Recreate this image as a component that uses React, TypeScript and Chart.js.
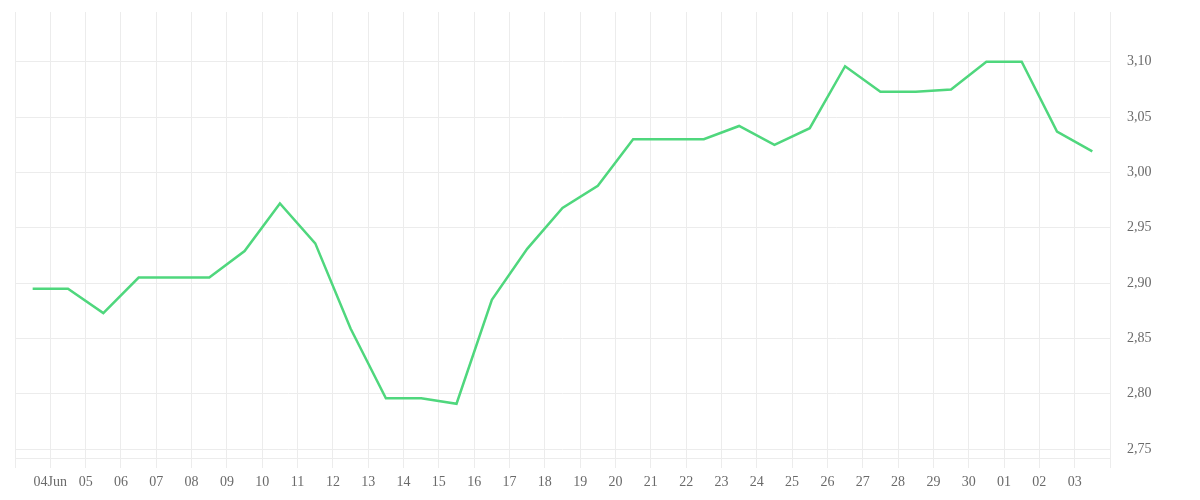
import React, { useEffect, useRef } from 'react';
import Chart from 'chart.js/auto';

// === Data ===
// daily values, 03 Jun .. 03 Jul
const values: number[] = [
  2.895, 2.895, 2.873, 2.905, 2.905, 2.905, 2.929, 2.972, 2.936, 2.859,
  2.796, 2.796, 2.791, 2.885, 2.931, 2.968, 2.988, 3.03, 3.03, 3.03,
  3.042, 3.025, 3.04, 3.096, 3.073, 3.073, 3.075, 3.1, 3.1, 3.037, 3.019,
];

// labels sit on the day boundaries (midnight), empty at both ends
const dayLabels: string[] = [
  '', '04Jun', '05', '06', '07', '08', '09', '10', '11', '12', '13', '14', '15',
  '16', '17', '18', '19', '20', '21', '22', '23', '24', '25', '26', '27', '28',
  '29', '30', '01', '02', '03', '',
];

const yTicks: number[] = [2.75, 2.8, 2.85, 2.9, 2.95, 3.0, 3.05, 3.1];

const LINE_COLOR = '#4fd77d';
const GRID_COLOR = '#ececec';
const TEXT_COLOR = '#6a6a6a';
const FONT = { family: "'Liberation Serif', serif", size: 14 };

const App: React.FC = () => {
  const canvasRef = useRef<HTMLCanvasElement>(null);

  useEffect(() => {
    if (!canvasRef.current) return;
    const chart = new Chart(canvasRef.current, {
      type: 'line',
      data: {
        datasets: [{
          data: values.map((v, i) => ({ x: i + 0.5, y: v })),
          borderColor: LINE_COLOR,
          borderWidth: 2.5,
          pointRadius: 0,
          tension: 0,
          fill: false,
        }],
      },
      options: {
        animation: false,
        responsive: true,
        maintainAspectRatio: false,
        layout: { padding: { left: 7, top: 4, right: 0, bottom: 0 } },
        plugins: { legend: { display: false }, tooltip: { enabled: false } },
        scales: {
          x: {
            type: 'linear',
            min: 0,
            max: dayLabels.length - 1,
            afterBuildTicks: (scale: any) => {
              scale.ticks = dayLabels.map((_, i) => ({ value: i }));
            },
            afterFit: (scale: any) => {
              scale.height = 34;
              scale.paddingLeft = 0;
              scale.paddingRight = 0;
            },
            grid: { color: GRID_COLOR, tickLength: 10, lineWidth: 1 },
            border: { display: true, color: GRID_COLOR },
            ticks: {
              autoSkip: false,
              maxRotation: 0,
              padding: 6,
              color: TEXT_COLOR,
              font: FONT,
              callback: (v: any) => dayLabels[Math.round(Number(v))] ?? '',
            },
          },
          y: {
            position: 'right',
            min: 2.742,
            max: 3.145,
            afterBuildTicks: (scale: any) => {
              scale.ticks = yTicks.map(v => ({ value: v }));
            },
            afterFit: (scale: any) => {
              scale.width = 82;
              scale.paddingTop = 0;
              scale.paddingBottom = 0;
            },
            grid: { color: GRID_COLOR, drawTicks: false },
            border: { display: false },
            ticks: {
              padding: 17,
              color: TEXT_COLOR,
              font: FONT,
              callback: (v: any) => Number(v).toFixed(2).replace('.', ','),
            },
          },
        },
      },
    });
    return () => chart.destroy();
  }, []);

  return (
    <div style={{ width: 1184, height: 484, position: 'relative' }}>
      <canvas ref={canvasRef} />
    </div>
  );
};

export default App;
